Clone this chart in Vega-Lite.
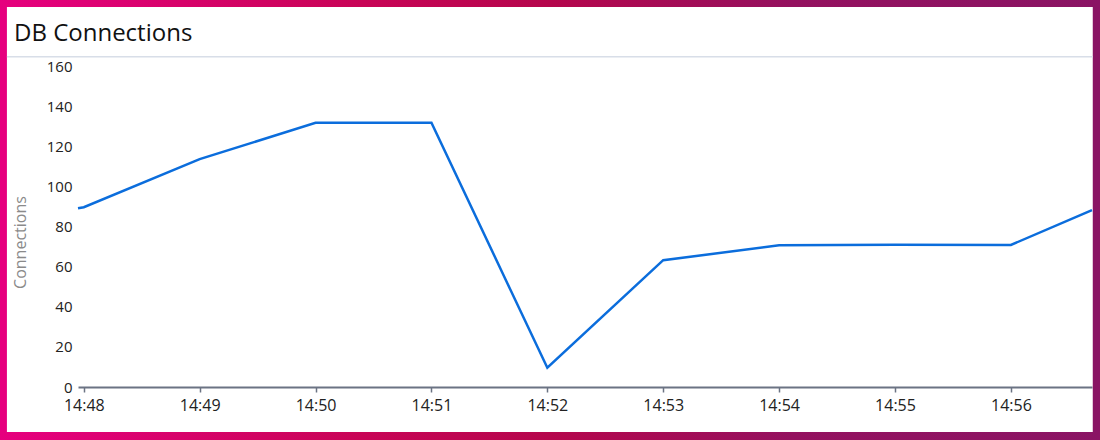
{
  "$schema": "https://vega.github.io/schema/vega-lite/v6.json",
  "autosize": "none",
  "width": 1014,
  "height": 321,
  "padding": {"left": 78, "top": 66, "right": 8, "bottom": 53},
  "background": "#ffffff",
  "config": {
    "view": {"stroke": null},
    "font": "Open Sans"
  },
  "title": {
    "text": "DB Connections",
    "anchor": "start",
    "frame": "group",
    "dx": -64,
    "dy": 46,
    "offset": 0,
    "font": "Open Sans",
    "fontSize": 24,
    "fontWeight": "normal",
    "color": "#111111"
  },
  "data": {
    "values": [
      {"time": "2024-01-01T14:47:57Z", "connections": 89.1},
      {"time": "2024-01-01T14:48:00Z", "connections": 89.6},
      {"time": "2024-01-01T14:49:00Z", "connections": 113.6},
      {"time": "2024-01-01T14:50:00Z", "connections": 131.7},
      {"time": "2024-01-01T14:51:00Z", "connections": 131.7},
      {"time": "2024-01-01T14:52:00Z", "connections": 9.6},
      {"time": "2024-01-01T14:53:00Z", "connections": 63.2},
      {"time": "2024-01-01T14:54:00Z", "connections": 70.6},
      {"time": "2024-01-01T14:55:00Z", "connections": 70.9},
      {"time": "2024-01-01T14:56:00Z", "connections": 70.8},
      {"time": "2024-01-01T14:56:42Z", "connections": 88.2}
    ]
  },
  "layer": [
    {
      "data": {"values": [{}]},
      "mark": {"type": "rect", "color": "#e6007e"},
      "encoding": {
        "x": {"datum": 1704120420000, "type": "temporal", "scale": {"type": "utc", "domain": [1704120477000, 1704121002000], "nice": false}},
        "x2": {"datum": 1704120440200},
        "y": {"datum": -30, "type": "quantitative", "scale": {"domain": [0, 160], "nice": false}},
        "y2": {"datum": 192.9}
      }
    },
    {
      "data": {"values": [{}]},
      "mark": {"type": "rect", "color": "#8a1464"},
      "encoding": {
        "x": {"datum": 1704121002400, "type": "temporal", "scale": {"type": "utc", "domain": [1704120477000, 1704121002000], "nice": false}},
        "x2": {"datum": 1704121030000},
        "y": {"datum": -30, "type": "quantitative", "scale": {"domain": [0, 160], "nice": false}},
        "y2": {"datum": 192.9}
      }
    },
    {
      "data": {"values": [{}]},
      "mark": {"type": "rect", "color": {"gradient": "linear", "x1": 0, "y1": 0, "x2": 1, "y2": 0, "stops": [
        {"offset": 0, "color": "#e6007e"},
        {"offset": 0.33, "color": "#c80456"},
        {"offset": 0.5, "color": "#b5064c"},
        {"offset": 0.72, "color": "#94115f"},
        {"offset": 1, "color": "#8a1464"}
      ]}},
      "encoding": {
        "x": {"datum": 1704120436600, "type": "temporal", "scale": {"type": "utc", "domain": [1704120477000, 1704121002000], "nice": false}},
        "x2": {"datum": 1704121006500},
        "y": {"datum": 189.4, "type": "quantitative", "scale": {"domain": [0, 160], "nice": false}},
        "y2": {"datum": 192.9}
      }
    },
    {
      "data": {"values": [{}]},
      "mark": {"type": "rect", "color": {"gradient": "linear", "x1": 0, "y1": 0, "x2": 1, "y2": 0, "stops": [
        {"offset": 0, "color": "#e6007e"},
        {"offset": 0.33, "color": "#c80456"},
        {"offset": 0.5, "color": "#b5064c"},
        {"offset": 0.72, "color": "#94115f"},
        {"offset": 1, "color": "#8a1464"}
      ]}},
      "encoding": {
        "x": {"datum": 1704120436600, "type": "temporal", "scale": {"type": "utc", "domain": [1704120477000, 1704121002000], "nice": false}},
        "x2": {"datum": 1704121006500},
        "y": {"datum": -22.4, "type": "quantitative", "scale": {"domain": [0, 160], "nice": false}},
        "y2": {"datum": -30}
      }
    },
    {
      "data": {"values": [{}]},
      "mark": {"type": "rule", "color": "#d8dee8", "strokeWidth": 1.5},
      "encoding": {
        "x": {"datum": 1704120440200, "type": "temporal", "scale": {"type": "utc", "domain": [1704120477000, 1704121002000], "nice": false}},
        "x2": {"datum": 1704121002400},
        "y": {"datum": 164.6, "type": "quantitative", "scale": {"domain": [0, 160], "nice": false}}
      }
    },
    {
      "mark": {"type": "line", "color": "#0b6ddc", "strokeWidth": 2.5},
      "encoding": {
        "x": {
          "field": "time",
          "type": "temporal",
          "scale": {"type": "utc", "domain": [1704120477000, 1704121002000], "nice": false},
          "axis": {
            "title": null,
            "format": "%H:%M",
            "values": [1704120480000, 1704120540000, 1704120600000, 1704120660000, 1704120720000, 1704120780000, 1704120840000, 1704120900000, 1704120960000],
            "grid": false,
            "domainColor": "#6b7383",
            "domainWidth": 2,
            "tickColor": "#6b7383",
            "tickWidth": 1.5,
            "tickSize": 5,
            "labelPadding": 5,
            "labelFont": "Open Sans",
            "labelFontSize": 16,
            "labelColor": "#222222"
          }
        },
        "y": {
          "field": "connections",
          "type": "quantitative",
          "scale": {"domain": [0, 160], "nice": false},
          "axis": {
            "title": "Connections",
            "values": [0, 20, 40, 60, 80, 100, 120, 140, 160],
            "domain": false,
            "ticks": false,
            "labelPadding": 6,
            "labelFont": "Open Sans",
            "labelFontSize": 15,
            "labelColor": "#222222",
            "gridColor": "#ebebeb",
            "gridWidth": 1.5,
            "titleFont": "Open Sans",
            "titleFontSize": 16,
            "titleFontWeight": "normal",
            "titleColor": "#8a8a8a",
            "titleX": -50,
            "titleY": 176,
            "titleAngle": -90
          }
        }
      }
    }
  ]
}
